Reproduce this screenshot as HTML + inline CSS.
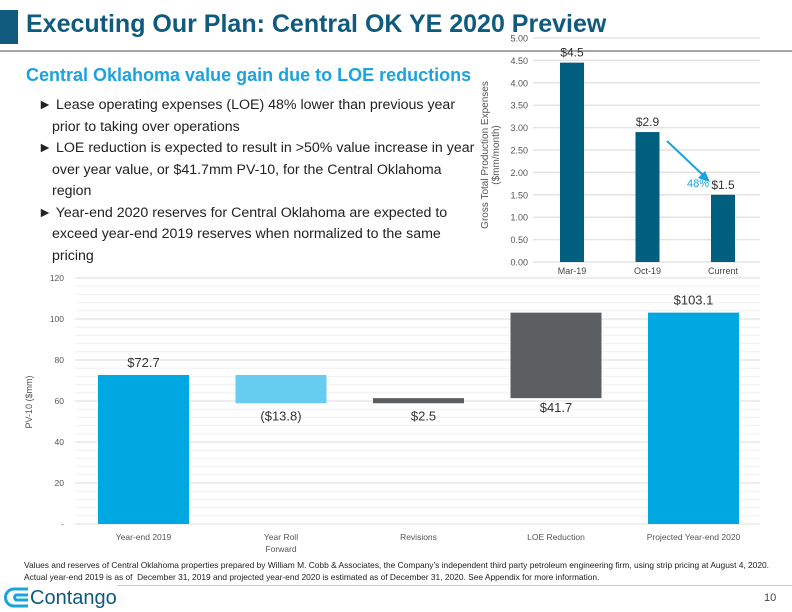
<!DOCTYPE html>
<html><head><meta charset="utf-8"><style>
body{margin:0;width:792px;height:612px;position:relative;background:#fff;font-family:"Liberation Sans",sans-serif;overflow:hidden}
.abs{position:absolute}
</style></head><body>
<div class="abs" style="left:0;top:10px;width:18px;height:34px;background:#0f5a7d"></div>
<div class="abs" style="left:26px;top:10px;font-size:25px;font-weight:bold;color:#0f5a7d;white-space:nowrap">Executing Our Plan: Central OK YE 2020 Preview</div>
<div class="abs" style="left:0;top:50px;width:792px;height:2px;background:#a6a6a6"></div>
<div class="abs" style="left:26px;top:65px;font-size:18px;font-weight:bold;color:#1aa3dc;white-space:nowrap">Central Oklahoma value gain due to LOE reductions</div>
<div class="abs" style="left:38px;top:95px;font-size:14.2px;line-height:21.5px;color:#222;white-space:nowrap">
<div style="text-indent:-14px;padding-left:14px">► Lease operating expenses (LOE) 48% lower than previous year<br>prior to taking over operations</div>
<div style="text-indent:-14px;padding-left:14px">► LOE reduction is expected to result in &gt;50% value increase in year<br>over year value, or $41.7mm PV-10, for the Central Oklahoma<br>region</div>
<div style="text-indent:-14px;padding-left:14px">► Year-end 2020 reserves for Central Oklahoma are expected to<br>exceed year-end 2019 reserves when normalized to the same<br>pricing</div>
</div>
<svg class="abs" style="left:0;top:0" width="792" height="612" id="svg"></svg>
<div class="abs" style="left:24px;top:560px;font-size:8.4px;line-height:11.5px;color:#222;white-space:nowrap">Values and reserves of Central Oklahoma properties prepared by William M. Cobb &amp; Associates, the Company’s independent third party petroleum engineering firm, using strip pricing at August 4, 2020.<br>Actual year-end 2019 is as of &nbsp;December 31, 2019 and projected year-end 2020 is estimated as of December 31, 2020. See Appendix for more information.</div>
<div class="abs" style="left:117px;top:585px;width:675px;height:1px;background:#ccc"></div>
<svg class="abs" style="left:4px;top:586px" width="26" height="24"><path d="M24 3 H10 a8 8 0 0 0 0 17 H24" fill="none" stroke="#1aa3dc" stroke-width="3"/><path d="M24 9 H12 a3 3 0 0 0 0 5 H24" fill="none" stroke="#1aa3dc" stroke-width="3"/></svg>
<div class="abs" style="left:30px;top:587px;font-size:20px;color:#0f5a7d">Contango</div>
<div class="abs" style="left:764px;top:592px;font-size:11px;color:#444">10</div>
<script>
const topCats=["Mar-19","Oct-19","Current"];
const topVals=[4.45,2.9,1.5];
const topLabels=["$4.5","$2.9","$1.5"];
const topTicks=[0,0.5,1,1.5,2,2.5,3,3.5,4,4.5,5];
const wfCats=["Year-end 2019","Year Roll|Forward","Revisions","LOE Reduction","Projected Year-end 2020"];
const wfStarts=[0,72.7,58.9,61.4,0];
const wfEnds=[72.7,58.9,61.4,103.1,103.1];
const wfLabels=["$72.7","($13.8)","$2.5","$41.7","$103.1"];
const wfTicks=[0,20,40,60,80,100,120];
const NS="http://www.w3.org/2000/svg",svg=document.getElementById('svg');
function mk(t,a,txt){const e=document.createElementNS(NS,t);for(const k in a)e.setAttribute(k,a[k]);if(txt!=null)e.textContent=txt;svg.appendChild(e);return e;}
const ty=v=>262-v/5*224, tx=i=>572+i*75.5;
topTicks.forEach(t=>{const l=mk('line',{x1:533,x2:760,y1:ty(t),y2:ty(t),stroke:'#e3e3e3','stroke-width':1.5});

const tt=mk('text',{x:528,y:ty(t)+3.5,'text-anchor':'end','font-size':9,fill:'#555'},t.toFixed(2));
});
topVals.forEach((v,i)=>{const r=mk('rect',{x:tx(i)-12,y:ty(v),width:24,height:ty(0)-ty(v),fill:'#005e7e'});

const l=mk('text',{x:tx(i),y:ty(v)-6,'text-anchor':'middle','font-size':12,fill:'#333'},topLabels[i]);

const c=mk('text',{x:tx(i),y:274,'text-anchor':'middle','font-size':9,fill:'#444'},topCats[i]);
});
const yt=mk('text',{transform:'translate(488,155) rotate(-90)','text-anchor':'middle','font-size':10,fill:'#555'},'Gross Total Production Expenses');

const yt2=mk('text',{transform:'translate(499,155) rotate(-90)','text-anchor':'middle','font-size':10,fill:'#555'},'($mm/month)');

const ar=mk('path',{d:'M667,141 L705,177',stroke:'#1aa3dc','stroke-width':2,fill:'none'});

const ah=mk('path',{d:'M710,182 L698,178 L705,171 Z',fill:'#1aa3dc'});

const pc=mk('text',{x:698,y:187,'text-anchor':'middle','font-size':11,fill:'#1aa3dc'},'48%');

const wy=v=>524-v/120*246, wx=i=>143.5+i*137.5;
for(let m=0;m<=120;m+=4){const major=m%20===0;const l=mk('line',{x1:75,x2:760,y1:wy(m),y2:wy(m),stroke:major?'#dcdcdc':'#f0f0f0','stroke-width':1});
}
wfTicks.forEach(t=>{const tt=mk('text',{x:64,y:wy(t)+3,'text-anchor':'end','font-size':8.5,fill:'#555'},t===0?'-':t);
});
const colors=['#00a8e1','#66ccf0','#5a5e61','#5a5e61','#00a8e1'];
wfStarts.forEach((s,i)=>{const e=wfEnds[i],lo=Math.min(s,e),hi=Math.max(s,e);
const r=mk('rect',{x:wx(i)-45.5,y:wy(hi),width:91,height:wy(lo)-wy(hi),fill:colors[i]});

let ly;if(i===0||i===4)ly=wy(hi)-8;else if(i===3)ly=wy(lo)+14;else ly=wy(lo)+17;
const lx=i===2?wx(i)+5:wx(i);
const l=mk('text',{x:lx,y:ly,'text-anchor':'middle','font-size':13,fill:'#333'},wfLabels[i]);

wfCats[i].split('|').forEach((p,j)=>{const c=mk('text',{x:wx(i),y:540+j*12,'text-anchor':'middle','font-size':8.5,fill:'#555'},p);
});});
const wt=mk('text',{transform:'translate(32,402) rotate(-90)','text-anchor':'middle','font-size':9,fill:'#555'},'PV-10 ($mm)');

</script>
</body></html>
